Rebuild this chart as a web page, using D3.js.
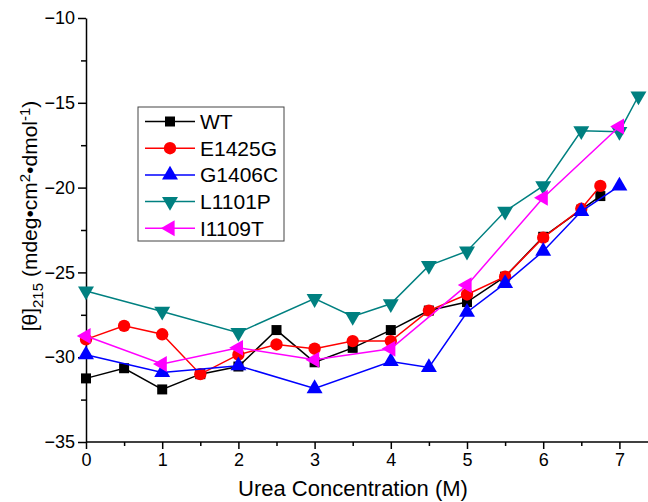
<!DOCTYPE html>
<html>
<head>
<meta charset="utf-8">
<script src="https://cdn.jsdelivr.net/npm/d3@7"></script>
<style>
body { margin: 0; background: #fff; }
text { font-family: "Liberation Sans", Arial, sans-serif; }
</style>
</head>
<body>
<div id="chart"></div>
<script>
// data
var names = ["WT", "E1425G", "G1406C", "L1101P", "I1109T"]
var colors = ["#000000", "#ff0000", "#0000ff", "#008080", "#ff00ff"]

var wtX = [0, 0.5, 1, 1.5, 2, 2.5, 3, 3.5, 4, 4.5, 5, 5.5, 6, 6.5, 6.75]
var wtY = [-31.25, -30.65, -31.9, -31.0, -30.55, -28.4, -30.3, -29.45, -28.4, -27.25, -26.75, -25.25, -22.9, -21.3, -20.5]

var e1425gX = [0, 0.5, 1, 1.5, 2, 2.5, 3, 3.5, 4, 4.5, 5, 5.5, 6, 6.5, 6.75]
var e1425gY = [-28.95, -28.15, -28.65, -31.0, -29.85, -29.25, -29.5, -29.05, -29.05, -27.25, -26.3, -25.25, -22.95, -21.25, -19.9]

var g1406cX = [0, 1, 2, 3, 4, 4.5, 5, 5.5, 6, 6.5, 7]
var g1406cY = [-29.85, -30.9, -30.5, -31.85, -30.25, -30.6, -27.35, -25.65, -23.75, -21.4, -19.9]

var l1101pX = [0, 1, 2, 3, 3.5, 4, 4.5, 5, 5.5, 6, 6.5, 7, 7.25]
var l1101pY = [-26.1, -27.3, -28.55, -26.55, -27.6, -26.85, -24.6, -23.75, -21.4, -19.9, -16.65, -16.7, -14.6]

var i1109tX = [0, 1, 2, 3, 4, 5, 6, 7]
var i1109tY = [-28.75, -30.4, -29.45, -30.15, -29.5, -25.75, -20.6, -16.4]

var xTicks = [0, 1, 2, 3, 4, 5, 6, 7]
var yTicks = [-35, -30, -25, -20, -15, -10]

var seriesX = [wtX, e1425gX, g1406cX, l1101pX, i1109tX]
var seriesY = [wtY, e1425gY, g1406cY, l1101pY, i1109tY]

var W = 648, H = 502
var margin = { top: 18, right: 0, bottom: 60, left: 86 }
var width = W - margin.left - margin.right
var height = H - margin.top - margin.bottom

var svg = d3.select("#chart").append("svg").attr("width", W).attr("height", H)
var g = svg.append("g").attr("transform", "translate(" + margin.left + "," + margin.top + ")")

var x = d3.scaleLinear().domain([0, 7.35]).range([0, 76.2 * 7.35])
var y = d3.scaleLinear().domain([-35, -10]).range([height, 0])

// minor ticks first, then major axes
g.append("g").attr("transform", "translate(0," + height + ")")
    .call(d3.axisBottom(x).tickValues(d3.range(0.5, 7.4, 1)).tickSize(4).tickFormat(""))
    .call(function(a) { a.select(".domain").remove() })
g.append("g")
    .call(d3.axisLeft(y).tickValues(d3.range(-32.5, -10, 5)).tickSize(5).tickFormat(""))
    .call(function(a) { a.select(".domain").remove() })

var xAxis = g.append("g").attr("transform", "translate(0," + height + ")")
    .call(d3.axisBottom(x).tickValues(xTicks).tickSize(7).tickSizeOuter(0).tickPadding(4))
xAxis.select(".domain").attr("d", "M0,0H" + (W - margin.left))
xAxis.selectAll("text").style("font-size", "18px").attr("fill", "#000")

var yAxis = g.append("g")
    .call(d3.axisLeft(y).tickValues(yTicks).tickSize(8).tickSizeOuter(0).tickPadding(3))
yAxis.selectAll("text").style("font-size", "18px").attr("fill", "#000")
g.selectAll(".domain, .tick line").attr("stroke", "#000").attr("stroke-width", 1.5)

// axis titles
svg.append("text").attr("x", 353).attr("y", 496).attr("text-anchor", "middle")
    .style("font-size", "22px").text("Urea Concentration (M)")

var yl = svg.append("text").attr("transform", "translate(37,216) rotate(-90)")
    .attr("text-anchor", "middle").style("font-size", "21px")
yl.append("tspan").text("[θ]")
yl.append("tspan").attr("dy", 6).style("font-size", "15px").text("215")
yl.append("tspan").attr("dy", -6).text(" (mdeg•cm")
yl.append("tspan").attr("dy", -7).style("font-size", "15px").text("2")
yl.append("tspan").attr("dy", 7).text("•dmol")
yl.append("tspan").attr("dy", -7).style("font-size", "15px").text("-1")
yl.append("tspan").attr("dy", 7).text(")")

// marker shapes
var shapes = [d3.symbolSquare, d3.symbolCircle, d3.symbolTriangle, d3.symbolTriangle, d3.symbolTriangle]
var sizes = [100, 120, 110, 110, 110]
var rotations = [0, 0, 0, 180, -90]

function marker(sel, i) {
    sel.append("path")
        .attr("d", d3.symbol().type(shapes[i]).size(sizes[i]))
        .attr("transform", "rotate(" + rotations[i] + ")")
        .attr("fill", colors[i])
}

var line = d3.line().x(function(d) { return x(d[0]) }).y(function(d) { return y(d[1]) })

names.forEach(function(name, i) {
    var pts = seriesX[i].map(function(v, j) { return [v, seriesY[i][j]] })
    g.append("path").datum(pts).attr("d", line)
        .attr("fill", "none").attr("stroke", colors[i]).attr("stroke-width", 1.5)
    g.selectAll(".pt" + i).data(pts).enter().append("g")
        .attr("class", "pt" + i)
        .attr("transform", function(d) { return "translate(" + x(d[0]) + "," + y(d[1]) + ")" })
        .each(function() { marker(d3.select(this), i) })
})

// legend
var lg = svg.append("g").attr("transform", "translate(138,107)")
lg.append("rect").attr("width", 146).attr("height", 134)
    .attr("fill", "#fff").attr("stroke", "#444").attr("stroke-width", 1)
names.forEach(function(name, i) {
    var row = lg.append("g").attr("transform", "translate(0," + (14.5 + i * 26.7) + ")")
    row.append("line").attr("x1", 7).attr("x2", 57).attr("stroke", colors[i]).attr("stroke-width", 1.5)
    var m = row.append("g").attr("transform", "translate(32,0)")
    marker(m, i)
    row.append("text").attr("x", 62).attr("dy", "0.36em").style("font-size", "21px").text(name)
})
</script>
</body>
</html>
